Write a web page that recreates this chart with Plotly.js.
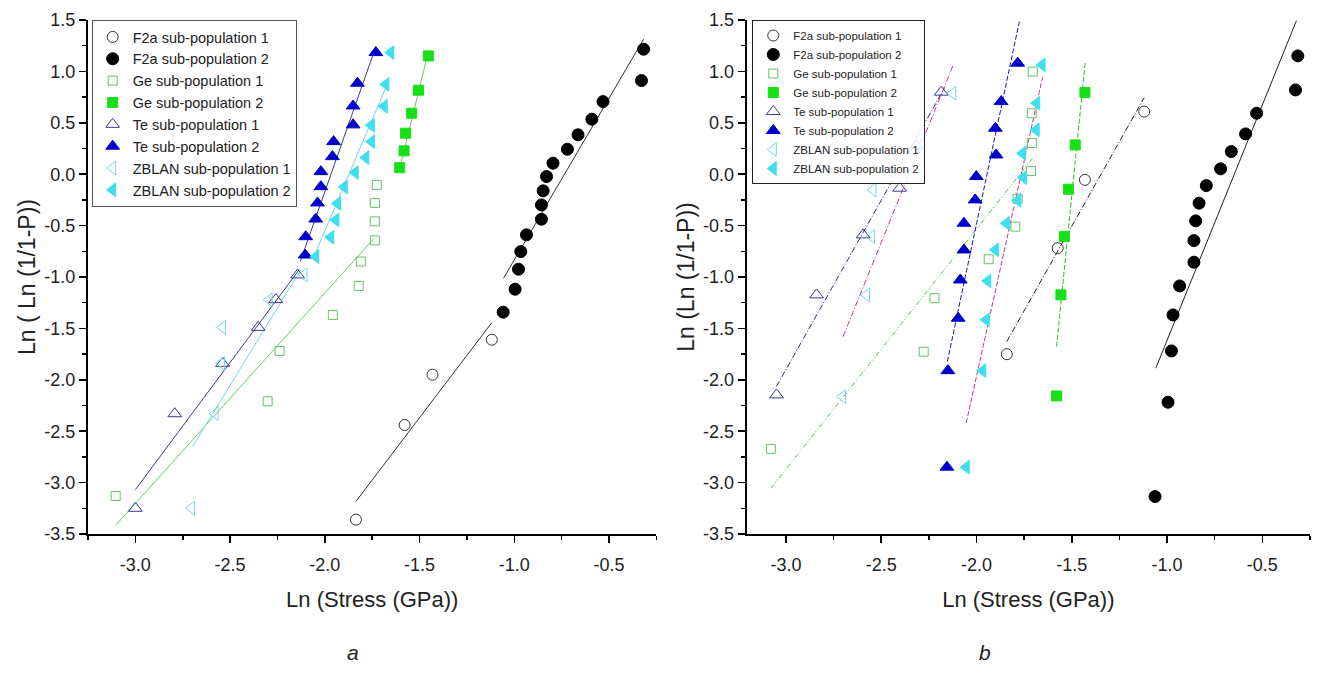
<!DOCTYPE html>
<html><head><meta charset="utf-8">
<script src="https://cdn.plot.ly/plotly-3.0.1.min.js"></script>
<style>html,body{margin:0;padding:0;background:#fff}#chart{width:1325px;height:689px}</style>
</head><body><div id="chart"></div>
<script>
// ---------------- Panel a data ----------------
const aF2a1X = [-1.836, -1.579, -1.432, -1.119];
const aF2a1Y = [-3.36, -2.44, -1.95, -1.61];
const aF2a2X = [-1.059, -0.996, -0.978, -0.966, -0.936, -0.857, -0.857, -0.848, -0.830, -0.796, -0.720, -0.664, -0.591, -0.532, -0.329, -0.318];
const aF2a2Y = [-1.342, -1.119, -0.924, -0.753, -0.590, -0.438, -0.299, -0.162, -0.023, 0.107, 0.243, 0.383, 0.535, 0.706, 0.911, 1.216];
const aGe1X = [-3.104, -2.302, -2.239, -1.958, -1.821, -1.810, -1.736, -1.736, -1.736, -1.726];
const aGe1Y = [-3.13, -2.21, -1.719, -1.369, -1.087, -0.850, -0.644, -0.459, -0.279, -0.104];
const aGe2X = [-1.605, -1.582, -1.574, -1.542, -1.506, -1.454];
const aGe2Y = [0.063, 0.227, 0.399, 0.593, 0.817, 1.151];
const aTe1X = [-3.0, -2.792, -2.540, -2.352, -2.259, -2.144];
const aTe1Y = [-3.25, -2.33, -1.84, -1.49, -1.22, -0.98];
const aTe2X = [-2.104, -2.101, -2.048, -2.039, -2.021, -2.021, -1.960, -1.954, -1.851, -1.851, -1.828, -1.731];
const aTe2Y = [-0.786, -0.608, -0.436, -0.280, -0.121, 0.025, 0.171, 0.317, 0.480, 0.664, 0.885, 1.183];
const aZB1X = [-2.704, -2.579, -2.545, -2.540, -2.294, -2.110];
const aZB1Y = [-3.25, -2.33, -1.84, -1.49, -1.22, -0.98];
const aZB2X = [-2.048, -1.969, -1.942, -1.933, -1.898, -1.840, -1.784, -1.754, -1.755, -1.687, -1.678, -1.652];
const aZB2Y = [-0.802, -0.613, -0.445, -0.284, -0.124, 0.016, 0.161, 0.317, 0.475, 0.661, 0.874, 1.183];
// fit lines (end points) panel a
const aF2a1FitX = [-1.836, -1.119], aF2a1FitY = [-3.183, -1.444];
const aF2a2FitX = [-1.057, -0.318], aF2a2FitY = [-1.012, 1.313];
const aGe1FitX = [-3.104, -1.740], aGe1FitY = [-3.416, -0.623];
const aGe2FitX = [-1.607, -1.458], aGe2FitY = [0.042, 1.160];
const aTe1FitX = [-3.0, -2.136], aTe1FitY = [-3.069, -0.93];
const aTe2FitX = [-2.13, -1.731], aTe2FitY = [-0.85, 1.24];
const aZB1FitX = [-2.698, -2.127], aZB1FitY = [-2.648, -0.93];
const aZB2FitX = [-2.06, -1.661], aZB2FitY = [-0.81, 0.917];

// ---------------- Panel b data ----------------
const bF2a1X = [-1.841, -1.574, -1.431, -1.120];
const bF2a1Y = [-1.751, -0.720, -0.055, 0.609];
const bF2a2X = [-1.063, -0.995, -0.977, -0.969, -0.934, -0.859, -0.859, -0.850, -0.832, -0.794, -0.719, -0.663, -0.588, -0.530, -0.326, -0.314];
const bF2a2Y = [-3.136, -2.218, -1.719, -1.369, -1.087, -0.856, -0.646, -0.454, -0.282, -0.111, 0.052, 0.220, 0.392, 0.593, 0.820, 1.151];
const bGe1X = [-3.079, -2.277, -2.220, -1.936, -1.796, -1.784, -1.714, -1.710, -1.710, -1.705];
const bGe1Y = [-2.672, -1.726, -1.206, -0.827, -0.510, -0.240, 0.032, 0.302, 0.593, 0.998];
const bGe2X = [-1.580, -1.557, -1.539, -1.517, -1.482, -1.431];
const bGe2Y = [-2.157, -1.174, -0.607, -0.146, 0.285, 0.794];
const bTe1X = [-3.049, -2.839, -2.595, -2.403, -2.316, -2.185];
const bTe1Y = [-2.147, -1.174, -0.590, -0.136, 0.278, 0.798];
const bTe2X = [-2.155, -2.150, -2.096, -2.085, -2.066, -2.066, -2.007, -2.001, -1.897, -1.901, -1.871, -1.784];
const bTe2Y = [-2.850, -1.911, -1.401, -1.029, -0.737, -0.477, -0.250, -0.023, 0.187, 0.447, 0.706, 1.080];
const bZB1X = [-2.702, -2.577, -2.551, -2.543, -2.307, -2.124];
const bZB1Y = [-2.163, -1.174, -0.607, -0.153, 0.268, 0.788];
const bZB2X = [-2.054, -1.967, -1.949, -1.941, -1.901, -1.843, -1.783, -1.754, -1.758, -1.687, -1.684, -1.656];
const bZB2Y = [-2.850, -1.911, -1.417, -1.038, -0.736, -0.477, -0.255, -0.033, 0.204, 0.431, 0.691, 1.063];
// fit lines panel b
const bF2a1FitX = [-1.841, -1.120], bF2a1FitY = [-1.628, 0.745];
const bF2a2FitX = [-1.059, -0.321], bF2a2FitY = [-1.887, 1.494];
const bGe1FitX = [-3.079, -1.705], bGe1FitY = [-3.055, 0.156];
const bGe2FitX = [-1.580, -1.429], bGe2FitY = [-1.677, 1.095];
const bTe1FitX = [-3.05, -2.168], bTe1FitY = [-2.066, 0.839];
const bTe2FitX = [-2.153, -1.775], bTe2FitY = [-1.823, 1.485];
const bZB1FitX = [-2.700, -2.124], bZB1FitY = [-1.58, 1.054];
const bZB2FitX = [-2.054, -1.653], bZB2FitY = [-2.42, 0.944];

// ---------------- labels ----------------
const seriesNames = ['F2a sub-population 1', 'F2a sub-population 2', 'Ge sub-population 1', 'Ge sub-population 2',
  'Te sub-population 1', 'Te sub-population 2', 'ZBLAN sub-population 1', 'ZBLAN sub-population 2'];
const xTickVals = [-3.0, -2.5, -2.0, -1.5, -1.0, -0.5];
const xTickText = ['-3.0', '-2.5', '-2.0', '-1.5', '-1.0', '-0.5'];
const yTickVals = [-3.5, -3.0, -2.5, -2.0, -1.5, -1.0, -0.5, 0.0, 0.5, 1.0, 1.5];
const yTickText = ['-3.5', '-3.0', '-2.5', '-2.0', '-1.5', '-1.0', '-0.5', '0.0', '0.5', '1.0', '1.5'];
const xTitle = 'Ln (Stress (GPa))';
const yTitleA = 'Ln ( Ln (1/1-P))';
const yTitleB = 'Ln (Ln (1/1-P))';
const panelLabels = ['a', 'b'];

// ---------------- styles ----------------
const FONT = 'Arial, "Liberation Sans", sans-serif';
const mStyle = [
  {symbol: 'circle-open', color: '#333333', size: 11},
  {symbol: 'circle', color: '#000000', size: 12},
  {symbol: 'square-open', color: '#62c462', size: 9},
  {symbol: 'square', color: '#16e016', size: 10},
  {symbol: 'triangle-up-open', color: '#3a3a96', size: 12},
  {symbol: 'triangle-up', color: '#0000c8', size: 12},
  {symbol: 'triangle-left-open', color: '#6fd6ea', size: 12},
  {symbol: 'triangle-left', color: '#3ee0f0', size: 12}
];
const aLineStyle = [
  {color: '#333333', dash: 'solid'}, {color: '#333333', dash: 'solid'},
  {color: '#66cc66', dash: 'solid'}, {color: '#66cc66', dash: 'solid'},
  {color: '#3c3c8c', dash: 'solid'}, {color: '#3c3c8c', dash: 'solid'},
  {color: '#7ad0ec', dash: 'solid'}, {color: '#7ad0ec', dash: 'solid'}
];
const bLineStyle = [
  {color: '#222222', dash: '6px,2px,1px,2px'}, {color: '#222222', dash: 'solid'},
  {color: '#55bb55', dash: '5px,2px,1px,2px,1px,2px'}, {color: '#33bb33', dash: '5px,2px'},
  {color: '#2a2a8a', dash: '6px,2px,1px,2px'}, {color: '#1a1aa0', dash: '5px,2px'},
  {color: '#cc3399', dash: '6px,2px,1px,2px'}, {color: '#cc3399', dash: '5px,2px'}
];

const aPts = [[aF2a1X, aF2a1Y], [aF2a2X, aF2a2Y], [aGe1X, aGe1Y], [aGe2X, aGe2Y], [aTe1X, aTe1Y], [aTe2X, aTe2Y], [aZB1X, aZB1Y], [aZB2X, aZB2Y]];
const aFits = [[aF2a1FitX, aF2a1FitY], [aF2a2FitX, aF2a2FitY], [aGe1FitX, aGe1FitY], [aGe2FitX, aGe2FitY], [aTe1FitX, aTe1FitY], [aTe2FitX, aTe2FitY], [aZB1FitX, aZB1FitY], [aZB2FitX, aZB2FitY]];
const bPts = [[bF2a1X, bF2a1Y], [bF2a2X, bF2a2Y], [bGe1X, bGe1Y], [bGe2X, bGe2Y], [bTe1X, bTe1Y], [bTe2X, bTe2Y], [bZB1X, bZB1Y], [bZB2X, bZB2Y]];
const bFits = [[bF2a1FitX, bF2a1FitY], [bF2a2FitX, bF2a2FitY], [bGe1FitX, bGe1FitY], [bGe2FitX, bGe2FitY], [bTe1FitX, bTe1FitY], [bTe2FitX, bTe2FitY], [bZB1FitX, bZB1FitY], [bZB2FitX, bZB2FitY]];

const traces = [];
function addLines(fits, styles, xa, ya) {
  fits.forEach((f, i) => traces.push({
    type: 'scatter', mode: 'lines', x: f[0], y: f[1], xaxis: xa, yaxis: ya,
    line: {color: styles[i].color, width: 1, dash: styles[i].dash}, showlegend: false, hoverinfo: 'skip'
  }));
}
function addPts(pts, xa, ya, legend) {
  pts.forEach((p, i) => {
    const s = mStyle[i];
    traces.push({
      type: 'scatter', mode: 'markers', name: seriesNames[i], x: p[0], y: p[1], xaxis: xa, yaxis: ya,
      legend: legend, showlegend: true,
      marker: {symbol: s.symbol, color: s.color, size: s.size, line: {color: s.color, width: 1}}
    });
  });
}
addLines(aFits, aLineStyle, 'x', 'y');
addLines(bFits, bLineStyle, 'x2', 'y2');
addPts(aPts, 'x', 'y', 'legend');
addPts(bPts, 'x2', 'y2', 'legend2');

function xAxis(domain, range, anchor) {
  return {
    domain: domain, range: range, anchor: anchor, showline: true, linewidth: 2, linecolor: '#000',
    ticks: 'outside', ticklen: 7, tickwidth: 1.5, tickcolor: '#000',
    tickmode: 'array', tickvals: xTickVals, ticktext: xTickText,
    minor: {ticks: 'outside', ticklen: 4, tickwidth: 1.5, tickcolor: '#000', dtick: 0.25, tick0: 0},
    showgrid: false, zeroline: false, tickfont: {size: 18, color: '#222', family: FONT},
    ticklabelstandoff: 6,
    title: {text: xTitle, font: {size: 22, color: '#222', family: FONT}, standoff: 18}
  };
}
function yAxis(anchor, title) {
  return {
    domain: [0, 1], range: [-3.5, 1.5], anchor: anchor, showline: true, linewidth: 2, linecolor: '#000',
    ticks: 'outside', ticklen: 7, tickwidth: 1.5, tickcolor: '#000',
    tickmode: 'array', tickvals: yTickVals, ticktext: yTickText,
    minor: {ticks: 'outside', ticklen: 4, tickwidth: 1.5, tickcolor: '#000', dtick: 0.25, tick0: 0},
    showgrid: false, zeroline: false, tickfont: {size: 18, color: '#222', family: FONT},
    title: {text: title, font: {size: 23, color: '#222', family: FONT}, standoff: 2}
  };
}

const layout = {
  width: 1325, height: 689,
  margin: {l: 88, r: 15, t: 20, b: 155},
  paper_bgcolor: '#fff', plot_bgcolor: '#fff',
  font: {family: FONT, color: '#222'},
  xaxis: xAxis([0, 0.4652], [-3.25, -0.25], 'y'),
  yaxis: yAxis('x', yTitleA),
  xaxis2: xAxis([0.539, 1], [-3.206, -0.25], 'y2'),
  yaxis2: yAxis('x2', yTitleB),
  legend: {x: 0.003, y: 1.0, xanchor: 'left', yanchor: 'top', bgcolor: '#fff', bordercolor: '#555', borderwidth: 1,
    font: {size: 14.5, color: '#222', family: FONT}, tracegroupgap: 0},
  legend2: {x: 0.5436, y: 1.0, xanchor: 'left', yanchor: 'top', bgcolor: 'rgba(255,255,255,0.85)', bordercolor: '#222', borderwidth: 1,
    font: {size: 11.5, color: '#222', family: FONT}, tracegroupgap: 0},
  annotations: [
    {text: panelLabels[0], xref: 'paper', yref: 'paper', x: 0.2103, y: -0.2296, yanchor: 'middle', showarrow: false,
      font: {size: 21, color: '#222', family: FONT, style: 'italic'}},
    {text: panelLabels[1], xref: 'paper', yref: 'paper', x: 0.7406, y: -0.2296, yanchor: 'middle', showarrow: false,
      font: {size: 21, color: '#222', family: FONT, style: 'italic'}}
  ],
  showlegend: true
};

Plotly.newPlot('chart', traces, layout, {staticPlot: true, displayModeBar: false});
</script></body></html>
